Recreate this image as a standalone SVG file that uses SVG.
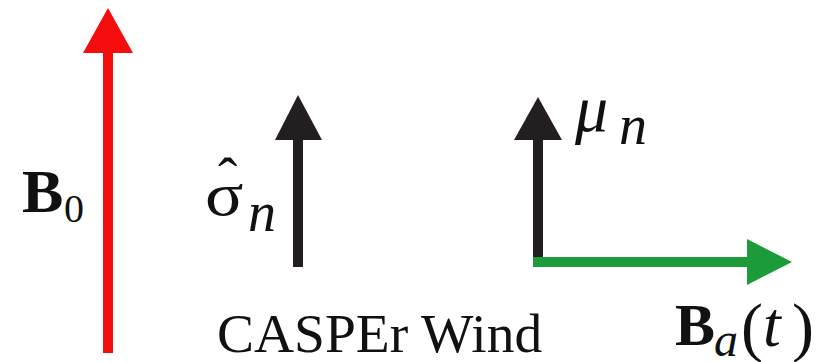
<svg xmlns="http://www.w3.org/2000/svg" width="826" height="362" viewBox="0 0 826 362">
<style>
text{font-family:'Liberation Serif','Times New Roman',serif;fill:#111}
.b{font-weight:bold}
.i{font-style:italic}
</style>
<rect width="826" height="362" fill="#fff"/>
<g id="arrows">
<g id="b0-arrow" fill="#f40d0d">
<rect x="103" y="50" width="10" height="303"/>
<polygon points="83,53 133,53 108,8"/>
</g>
<g id="sigma-arrow" fill="#231f20">
<rect x="293" y="137" width="10" height="130"/>
<polygon points="275,140 322,140 298,95"/>
</g>
<g id="mu-arrow" fill="#231f20">
<rect x="533" y="137" width="10" height="130"/>
<polygon points="514,140 562,140 538,97"/>
</g>
<g id="ba-arrow" fill="#1c9b3a">
<rect x="533" y="257" width="217" height="10"/>
<polygon points="747,239 747,285 792,262"/>
</g>
</g>
<g id="label-b0">
<text class="b" x="22" y="212" font-size="62">B</text>
<text x="64" y="222" font-size="40">0</text>
</g>
<g id="label-sigma">
<text x="218" y="197" font-size="58">ˆ</text>
<text transform="translate(205,215) scale(1.15,1)" font-size="62">σ</text>
<text class="i" x="248" y="231" font-size="56">n</text>
</g>
<g id="label-mu">
<text class="i" x="575" y="131" font-size="66">μ</text>
<text class="i" x="619" y="144" font-size="56">n</text>
</g>
<g id="label-casper">
<text x="217" y="352" font-size="55.5">CASPEr Wind</text>
</g>
<g id="label-ba">
<text class="b" x="675" y="345" font-size="60">B</text>
<text class="i" x="714" y="356" font-size="48">a</text>
<text x="741" y="349" font-size="66">(</text>
<text class="i" x="763" y="346" font-size="64">t</text>
<text x="792" y="349" font-size="66">)</text>
</g>
</svg>
